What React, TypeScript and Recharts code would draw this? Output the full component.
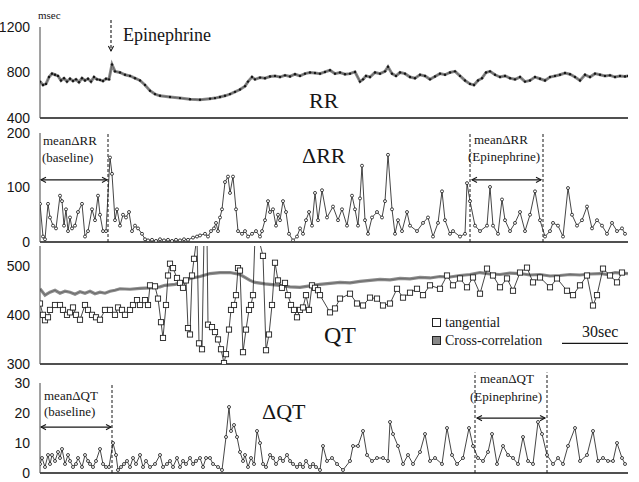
import React from "react";
import { LineChart, Line, XAxis, YAxis, ReferenceLine } from "recharts";

// [sample, value]; sample 0..588 spans the record
const rrSeries = [
  [0, 720], [3, 690], [6, 700], [9, 760], [12, 790], [15, 780], [18, 770], [21, 730], [24, 750],
  [27, 720], [30, 745], [33, 725], [36, 740], [39, 715], [42, 750], [45, 730], [48, 745], [51, 720],
  [54, 760], [57, 740], [60, 735], [63, 725], [66, 745], [69, 740], [72, 870], [75, 810], [80, 800],
  [85, 780], [90, 770], [95, 750], [100, 730], [105, 690], [110, 640], [115, 610], [120, 595],
  [130, 585], [140, 575], [150, 565], [160, 560], [170, 570], [175, 575], [180, 585], [185, 595],
  [190, 610], [195, 630], [200, 650], [205, 680], [208, 720], [212, 760], [215, 740], [220, 755],
  [225, 750], [230, 765], [235, 770], [240, 760], [245, 775], [250, 765], [255, 785], [260, 770],
  [265, 790], [270, 800], [275, 795], [280, 790], [285, 805], [290, 820], [295, 790], [300, 800],
  [305, 785], [310, 790], [315, 805], [320, 720], [323, 740], [326, 770], [330, 760], [335, 800],
  [340, 790], [345, 810], [348, 850], [352, 790], [356, 770], [360, 800], [365, 790], [370, 760],
  [375, 750], [380, 780], [385, 770], [390, 740], [395, 765], [400, 790], [405, 780], [410, 800],
  [415, 810], [420, 770], [425, 730], [430, 700], [434, 690], [438, 730], [442, 750], [446, 800],
  [450, 810], [455, 780], [460, 760], [465, 770], [470, 750], [475, 740], [480, 760], [485, 720],
  [490, 730], [495, 760], [500, 745], [505, 730], [510, 760], [515, 770], [520, 780], [525, 795],
  [530, 785], [535, 760], [540, 730], [545, 780], [550, 760], [555, 790], [560, 780], [565, 770],
  [570, 775], [575, 760], [580, 770], [585, 765], [588, 770],
];

const dRRSeries = [
  [0, 70], [3, 10], [5, 5], [8, 70], [10, 45], [13, 30], [16, 25], [20, 85], [22, 75], [24, 30],
  [26, 60], [28, 20], [30, 45], [32, 25], [35, 30], [38, 55], [42, 70], [45, 10], [48, 20], [52, 60],
  [55, 40], [58, 85], [60, 50], [63, 20], [66, 20], [70, 155], [72, 125], [75, 40], [77, 60],
  [80, 30], [83, 50], [86, 45], [89, 55], [92, 20], [95, 30], [98, 25], [102, 15], [105, 5],
  [108, 3], [112, 4], [116, 2], [120, 5], [124, 3], [128, 4], [132, 2], [136, 4], [140, 3],
  [144, 5], [148, 4], [153, 8], [157, 10], [160, 12], [165, 15], [168, 10], [171, 20], [174, 25],
  [176, 35], [178, 20], [180, 45], [182, 60], [185, 110], [188, 120], [190, 90], [193, 120],
  [196, 60], [198, 20], [202, 15], [205, 20], [208, 10], [212, 15], [216, 20], [220, 10], [222, 20],
  [225, 40], [228, 75], [230, 55], [233, 60], [236, 30], [238, 50], [240, 40], [243, 75], [246, 55],
  [249, 15], [253, 3], [257, 10], [260, 25], [263, 15], [266, 40], [269, 55], [272, 30], [275, 90],
  [278, 40], [282, 95], [287, 45], [293, 65], [298, 40], [302, 60], [307, 30], [312, 85], [315, 60],
  [318, 30], [320, 80], [322, 140], [325, 40], [328, 15], [332, 45], [337, 55], [342, 45], [345, 75],
  [348, 160], [352, 60], [355, 15], [358, 40], [362, 20], [367, 55], [370, 30], [377, 20], [383, 35],
  [388, 45], [393, 10], [398, 35], [402, 93], [405, 40], [410, 15], [413, 20], [420, 10], [425, 15],
  [427, 108], [430, 75], [435, 30], [440, 20], [447, 30], [450, 101], [453, 30], [458, 15],
  [462, 78], [465, 40], [470, 20], [475, 35], [480, 55], [485, 20], [490, 50], [495, 93], [500, 40],
  [505, 10], [510, 20], [513, 35], [518, 30], [523, 10], [528, 99], [532, 50], [537, 30], [542, 40],
  [547, 65], [552, 25], [557, 40], [562, 30], [567, 15], [572, 35], [577, 20], [582, 25], [585, 15],
];

const qtCrossSeries = [
  [0, 453], [5, 440], [10, 446], [15, 450], [20, 444], [25, 448], [30, 446], [35, 442], [40, 447],
  [45, 444], [50, 448], [55, 443], [60, 446], [65, 444], [70, 448], [75, 450], [80, 453], [90, 452],
  [100, 454], [110, 455], [120, 457], [125, 460], [135, 462], [145, 468], [150, 474], [160, 478],
  [170, 484], [180, 486], [190, 486], [200, 482], [205, 476], [210, 470], [215, 466], [225, 463],
  [240, 460], [250, 457], [260, 456], [270, 459], [280, 462], [290, 464], [300, 466], [310, 465],
  [320, 468], [330, 470], [340, 472], [350, 471], [360, 474], [370, 473], [380, 476], [390, 475],
  [400, 478], [410, 477], [420, 480], [430, 482], [440, 486], [450, 483], [460, 482], [470, 485],
  [480, 484], [490, 481], [500, 482], [510, 479], [520, 480], [530, 482], [540, 481], [550, 483],
  [560, 484], [568, 482], [575, 486], [582, 485], [588, 484],
];

const qtTangSeries = [
  [0, 423], [3, 400], [5, 389], [8, 395], [10, 410], [15, 420], [20, 420], [23, 410], [27, 400],
  [30, 405], [33, 415], [36, 400], [40, 390], [45, 420], [48, 410], [52, 400], [56, 395], [60, 390],
  [65, 410], [70, 410], [75, 400], [78, 415], [82, 410], [85, 400], [90, 410], [93, 420], [97, 430],
  [100, 420], [105, 430], [108, 420], [110, 460], [115, 458], [118, 433], [121, 385], [123, 353],
  [126, 420], [128, 480], [130, 504], [133, 495], [137, 475], [140, 465], [143, 455], [146, 470],
  [148, 373], [150, 360], [152, 480], [154, 514], [157, 560], [159, 342], [162, 330], [164, 560],
  [167, 560], [168, 380], [172, 375], [175, 365], [178, 350], [181, 330], [184, 302], [186, 320],
  [189, 370], [191, 410], [194, 420], [196, 440], [198, 495], [200, 490], [203, 324], [206, 370],
  [209, 410], [211, 420], [213, 440], [215, 560], [218, 560], [223, 520], [226, 328], [229, 360],
  [232, 420], [235, 506], [238, 470], [242, 455], [245, 465], [248, 440], [251, 420], [254, 410],
  [257, 395], [260, 410], [263, 415], [266, 440], [269, 410], [272, 460], [275, 455], [278, 450],
  [280, 440], [290, 405], [295, 413], [300, 433], [310, 443], [317, 423], [323, 419], [330, 435],
  [337, 433], [343, 419], [350, 423], [357, 453], [363, 435], [370, 445], [377, 453], [383, 440],
  [390, 460], [400, 453], [407, 480], [413, 460], [420, 474], [427, 456], [433, 476], [440, 443],
  [447, 494], [453, 480], [460, 456], [467, 474], [473, 449], [480, 486], [487, 496], [493, 466],
  [500, 476], [510, 456], [517, 474], [527, 449], [533, 440], [540, 460], [547, 480], [553, 419],
  [557, 440], [563, 494], [570, 480], [577, 466], [582, 486],
];

const dQTSeries = [
  [0, 3], [2, 5], [5, 2], [8, 6], [10, 3], [12, 6], [15, 4], [18, 7], [20, 5], [22, 8], [25, 3],
  [28, 6], [30, 4], [33, 2], [36, 3], [38, 5], [42, 2], [45, 6], [48, 4], [50, 3], [53, 2], [56, 4],
  [60, 8], [63, 3], [66, 2], [69, 2], [73, 10], [76, 6], [78, 1], [81, 2], [84, 3], [87, 4], [90, 2],
  [93, 5], [96, 3], [100, 6], [103, 2], [106, 4], [110, 2], [115, 3], [120, 6], [123, 2], [127, 3],
  [130, 4], [133, 2], [137, 5], [140, 2], [143, 4], [146, 3], [150, 5], [153, 3], [156, 4], [160, 5],
  [163, 2], [166, 5], [170, 5], [173, 3], [178, 2], [182, 1], [186, 12], [189, 22], [191, 14],
  [194, 16], [197, 12], [200, 7], [203, 4], [205, 6], [208, 2], [211, 5], [214, 3], [217, 14],
  [220, 10], [223, 3], [226, 2], [230, 6], [233, 5], [236, 3], [240, 5], [243, 4], [247, 6], [250, 4],
  [253, 3], [257, 2], [260, 3], [263, 2], [266, 4], [270, 2], [273, 3], [276, 2], [280, 1], [283, 9],
  [287, 4], [292, 5], [297, 3], [303, 1], [310, 4], [313, 9], [318, 9], [323, 14], [327, 6], [332, 4],
  [337, 5], [343, 5], [348, 4], [350, 17], [353, 13], [358, 9], [363, 3], [368, 6], [373, 3], [380, 7],
  [385, 13], [390, 4], [395, 5], [402, 3], [407, 15], [412, 6], [417, 3], [423, 5], [429, 15],
  [433, 9], [438, 5], [443, 4], [448, 7], [452, 13], [457, 3], [463, 9], [468, 6], [473, 5], [478, 3],
  [483, 12], [488, 4], [493, 3], [498, 17], [502, 13], [507, 6], [513, 3], [518, 5], [523, 3],
  [528, 9], [535, 15], [540, 4], [547, 6], [553, 14], [558, 4], [563, 5], [568, 4], [573, 4],
  [577, 10], [582, 5], [585, 3],
];

const rrTicks = [400, 800, 1200];
const dRRTicks = [0, 100, 200];
const qtTicks = [300, 400, 500];
const dQTTicks = [0, 10, 20, 30];

// sample positions of the epinephrine injection and the averaging windows
const injection = 71;
const baseRR = [1, 68];
const epiRR = [430, 503];
const baseQT = [1, 72];
const epiQT = [435, 507];
const scaleBar = [522, 588];

const pts = (s: number[][]) => s.map(([t, v]) => ({ t, v }));

const SERIF = "'Liberation Serif', 'DejaVu Serif', serif";
const INK = "#161616";

const arrowShape = (both: boolean, dashed: boolean) => (p: any) => {
  const { x1, y1, x2, y2 } = p;
  const a = Math.atan2(y2 - y1, x2 - x1);
  const l = 5;
  const w = 2.6;
  const head = (x: number, y: number, ang: number) =>
    `M${x - l * Math.cos(ang) + w * Math.sin(ang)},${y - l * Math.sin(ang) - w * Math.cos(ang)} L${x},${y} L${
      x - l * Math.cos(ang) - w * Math.sin(ang)
    },${y - l * Math.sin(ang) + w * Math.cos(ang)}`;
  return (
    <g>
      <line x1={x1} y1={y1} x2={x2} y2={y2} stroke={INK} strokeWidth={1.1} strokeDasharray={dashed ? "3 2" : undefined} />
      <path d={head(x2, y2, a)} fill="none" stroke={INK} strokeWidth={1.1} />
      {both && <path d={head(x1, y1, a + Math.PI)} fill="none" stroke={INK} strokeWidth={1.1} />}
    </g>
  );
};

const dashV = { stroke: INK, strokeWidth: 1, strokeDasharray: "3 2" };

// extra bottom margin keeps the lowest tick label inside each svg; panels overlap
const Panel = ({ top, height, mTop, mBottom, domain, ticks, children }: any) => (
  <div style={{ position: "absolute", left: 0, top }}>
    <LineChart width={639} height={height} margin={{ top: mTop, right: 11, left: 0, bottom: mBottom }}>
      <XAxis
        dataKey="t"
        type="number"
        domain={[0, 588]}
        allowDataOverflow
        tick={false}
        tickLine={false}
        height={2}
        axisLine={{ stroke: INK, strokeWidth: 1.6 }}
      />
      <YAxis
        type="number"
        domain={domain}
        ticks={ticks}
        interval={0}
        allowDataOverflow
        width={40}
        tickLine={false}
        tickMargin={4}
        axisLine={{ stroke: "#444", strokeWidth: 1 }}
        tick={{ fontSize: 14, fill: INK, fontFamily: "'Liberation Sans', Arial, sans-serif" }}
      />
      {children}
    </LineChart>
  </div>
);

const Txt = ({ x, y, size, children }: any) => (
  <div
    style={{
      position: "absolute",
      left: x,
      top: y,
      fontFamily: SERIF,
      fontSize: size,
      lineHeight: 1,
      color: INK,
      whiteSpace: "nowrap",
    }}
  >
    {children}
  </div>
);

const square = (fill: string) => (p: any) => (
  <rect key={`sq-${p.index}`} x={p.cx - 2.6} y={p.cy - 2.6} width={5.2} height={5.2} fill={fill} stroke="#222" strokeWidth={0.9} />
);

export default function App() {
  return (
    <div style={{ position: "absolute", left: 0, top: 0, width: 639, height: 482, background: "#fff", overflow: "hidden" }}>
      <Panel top={0} height={130} mTop={27} mBottom={10} domain={[400, 1200]} ticks={rrTicks}>
        <Line data={pts(rrSeries)} dataKey="v" stroke="#8a8a8a" strokeWidth={3} dot={false} isAnimationActive={false} />
        <Line
          data={pts(rrSeries)}
          dataKey="v"
          stroke="#555"
          strokeWidth={0.7}
          dot={{ r: 1.2, fill: INK, stroke: "none" }}
          isAnimationActive={false}
        />
        <ReferenceLine
          segment={[{ x: injection, y: 1262 }, { x: injection, y: 990 }]}
          ifOverflow="visible"
          shape={arrowShape(false, true)}
        />
      </Panel>

      <Panel top={122} height={132} mTop={11} mBottom={10} domain={[0, 200]} ticks={dRRTicks}>
        <Line
          data={pts(dRRSeries)}
          dataKey="v"
          stroke={INK}
          strokeWidth={0.8}
          dot={{ r: 1.5, fill: "#fff", stroke: INK, strokeWidth: 0.8 }}
          isAnimationActive={false}
        />
        <ReferenceLine x={baseRR[1]} {...dashV} />
        <ReferenceLine x={epiRR[0]} {...dashV} />
        <ReferenceLine x={epiRR[1]} {...dashV} />
        <ReferenceLine segment={[{ x: baseRR[0], y: 114 }, { x: baseRR[1] - 1, y: 114 }]} shape={arrowShape(true, false)} />
        <ReferenceLine segment={[{ x: epiRR[0] + 2, y: 114 }, { x: epiRR[1] - 2, y: 114 }]} shape={arrowShape(true, false)} />
      </Panel>

      <Panel top={246} height={130} mTop={0} mBottom={10} domain={[300, 540]} ticks={qtTicks}>
        <Line data={pts(qtCrossSeries)} dataKey="v" stroke="#8c8c8c" strokeWidth={3.2} dot={false} isAnimationActive={false} />
        <Line data={pts(qtCrossSeries)} dataKey="v" stroke="#555" strokeWidth={0.6} dot={false} isAnimationActive={false} />
        <Line
          data={pts(qtTangSeries)}
          dataKey="v"
          stroke={INK}
          strokeWidth={0.8}
          dot={square("#fff")}
          isAnimationActive={false}
        />
        <ReferenceLine segment={[{ x: scaleBar[0], y: 342 }, { x: scaleBar[1], y: 342 }]} stroke={INK} strokeWidth={1.2} />
      </Panel>

      <Panel top={368} height={114} mTop={15} mBottom={7} domain={[0, 30]} ticks={dQTTicks}>
        <Line
          data={pts(dQTSeries)}
          dataKey="v"
          stroke={INK}
          strokeWidth={0.8}
          dot={{ r: 1.5, fill: "#fff", stroke: INK, strokeWidth: 0.8 }}
          isAnimationActive={false}
        />
        <ReferenceLine x={baseQT[1]} {...dashV} />
        <ReferenceLine segment={[{ x: epiQT[0], y: 0 }, { x: epiQT[0], y: 33.5 }]} ifOverflow="visible" {...dashV} />
        <ReferenceLine segment={[{ x: epiQT[1], y: 0 }, { x: epiQT[1], y: 33.5 }]} ifOverflow="visible" {...dashV} />
        <ReferenceLine segment={[{ x: baseQT[0], y: 15.3 }, { x: baseQT[1] - 1, y: 15.3 }]} shape={arrowShape(true, false)} />
        <ReferenceLine segment={[{ x: epiQT[0] + 2, y: 18.3 }, { x: epiQT[1] - 2, y: 18.3 }]} shape={arrowShape(true, false)} />
      </Panel>

      <Txt x={38} y={10} size={11}>msec</Txt>
      <Txt x={123} y={26} size={18}>Epinephrine</Txt>
      <Txt x={309} y={90} size={22}>RR</Txt>

      <Txt x={302} y={145} size={22}>ΔRR</Txt>
      <Txt x={43} y={134} size={13}>meanΔRR</Txt>
      <Txt x={42} y={151} size={13}>(baseline)</Txt>
      <Txt x={474} y={133} size={13}>meanΔRR</Txt>
      <Txt x={468} y={150} size={13}>(Epinephrine)</Txt>

      <Txt x={324} y={323} size={24}>QT</Txt>
      <Txt x={432} y={316} size={14}>
        <span style={{ display: "inline-block", width: 7, height: 7, border: "1px solid #222", marginRight: 4, verticalAlign: 0 }} />
        tangential
      </Txt>
      <Txt x={432} y={334} size={14}>
        <span style={{ display: "inline-block", width: 7, height: 7, border: "1px solid #222", background: "#888", marginRight: 4, verticalAlign: 0 }} />
        Cross-correlation
      </Txt>
      <Txt x={582} y={324} size={16}>30sec</Txt>

      <Txt x={262} y={401} size={22}>ΔQT</Txt>
      <Txt x={44} y={389} size={13}>meanΔQT</Txt>
      <Txt x={44} y={405} size={13}>(baseline)</Txt>
      <Txt x={480} y={372} size={13}>meanΔQT</Txt>
      <Txt x={470} y={390} size={13}>(Epinephrine)</Txt>
    </div>
  );
}
